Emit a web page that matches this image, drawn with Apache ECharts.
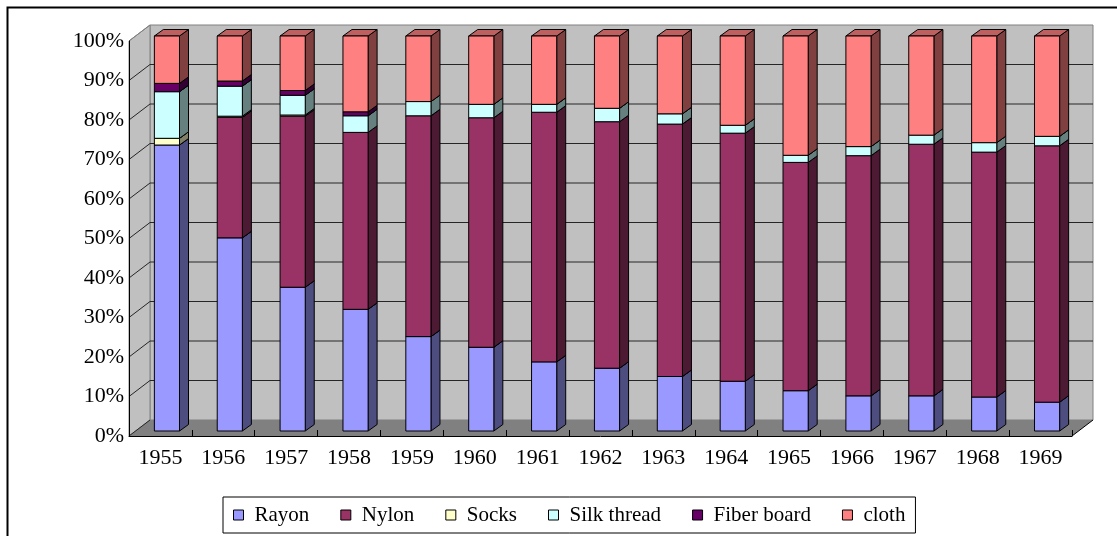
<!DOCTYPE html>
<html>
<head>
<meta charset="utf-8">
<script src="https://cdn.jsdelivr.net/npm/echarts@6/dist/echarts.min.js"></script>
<style>html,body{margin:0;padding:0;background:#fff}#c{width:1117px;height:536px}</style>
</head>
<body>
<div id="c"></div>
<script>
// ---- data (percent shares) ----
const years = ['1955','1956','1957','1958','1959','1960','1961','1962','1963','1964','1965','1966','1967','1968','1969'];
const seriesNames = ['Rayon','Nylon','Socks','Silk thread','Fiber board','cloth'];
const rayon = [72.4, 48.9, 36.4, 30.8, 23.9, 21.2, 17.5, 15.9, 13.8, 12.6, 10.2, 8.9, 8.9, 8.6, 7.3];
const nylon = [0, 30.5, 43.3, 44.8, 55.9, 58.1, 63.2, 62.4, 63.9, 62.8, 57.8, 60.8, 63.7, 62.0, 64.9];
const socks = [1.7, 0.3, 0.3, 0, 0, 0, 0, 0, 0, 0, 0, 0, 0, 0, 0];
const silkThread = [11.8, 7.6, 5.0, 4.2, 3.6, 3.4, 2.0, 3.4, 2.6, 2.0, 1.8, 2.3, 2.3, 2.4, 2.4];
const fiberBoard = [2.1, 1.3, 1.2, 1.0, 0, 0, 0, 0, 0, 0, 0, 0, 0, 0, 0];
const cloth = [12.0, 11.4, 13.8, 19.2, 16.6, 17.3, 17.3, 18.3, 19.7, 22.6, 30.2, 28.0, 25.1, 27.0, 25.4];
const yTicks = [0, 10, 20, 30, 40, 50, 60, 70, 80, 90, 100];

// ---- styles ----
const colors = ['#9999FF', '#993366', '#FFFFCC', '#CCFFFF', '#660066', '#FF8080'];
const FONT = "'Liberation Serif', 'Times New Roman', serif";
const WALL_D = [21, -16];   // depth of back wall (px)
const BAR_OFF = [6.5, -5];  // bar front face offset from front axis plane
const BAR_D = [9, -6.5];    // bar depth

function shade(hex, f) {
  const n = parseInt(hex.slice(1), 16);
  const r = Math.round(((n >> 16) & 255) * f), g = Math.round(((n >> 8) & 255) * f), b = Math.round((n & 255) * f);
  return 'rgb(' + r + ',' + g + ',' + b + ')';
}

const allVals = [rayon, nylon, socks, silkThread, fiberBoard, cloth];
const bases = years.map(() => 0);
const stackedData = allVals.map(vals => {
  const d = vals.map((v, i) => [i, bases[i], bases[i] + v]);
  vals.forEach((v, i) => { bases[i] += v; });
  return d;
});

function renderWalls(params, api) {
  const cs = params.coordSys;
  const x0 = cs.x, x1 = cs.x + cs.width;
  const yb = api.coord([0, 0])[1], yt = api.coord([0, 100])[1];
  const dx = WALL_D[0], dy = WALL_D[1];
  const ch = [];
  ch.push({type: 'rect', shape: {x: x0 + dx, y: yt + dy, width: cs.width, height: yb - yt},
    style: {fill: '#C0C0C0', stroke: '#808080', lineWidth: 1}});
  ch.push({type: 'polygon', shape: {points: [[x0, yt], [x0 + dx, yt + dy], [x0 + dx, yb + dy], [x0, yb]]},
    style: {fill: '#C0C0C0', stroke: '#808080', lineWidth: 1}});
  ch.push({type: 'polygon', shape: {points: [[x0, yb], [x0 + dx, yb + dy], [x1 + dx, yb + dy], [x1, yb]]},
    style: {fill: '#808080', stroke: null}});
  ch.push({type: 'line', shape: {x1: x1, y1: yb, x2: x1 + dx, y2: yb + dy}, style: {stroke: '#000', lineWidth: 1}});
  yTicks.forEach(v => {
    const y = api.coord([0, v])[1];
    if (v !== 0 && v !== 100) {
      ch.push({type: 'line', shape: {x1: x0 + dx, y1: y + dy, x2: x1 + dx, y2: y + dy}, style: {stroke: '#262626', lineWidth: 1}});
    }
    ch.push({type: 'line', shape: {x1: x0, y1: y, x2: x0 + dx, y2: y + dy}, style: {stroke: v === 100 ? '#808080' : '#262626', lineWidth: 1}});
  });
  return {type: 'group', children: ch};
}

function makeBarRender(color) {
  const side = shade(color, 0.5), top = shade(color, 0.75);
  return function (params, api) {
    const i = api.value(0), lo = api.value(1), hi = api.value(2);
    if (!(hi - lo > 0)) return null;
    const pb = api.coord([i, lo]), pt = api.coord([i, hi]);
    const bw = api.size([1, 0])[0] * 0.4;
    const xL = pb[0] + BAR_OFF[0] - bw / 2, xR = xL + bw;
    const yB = pb[1] + BAR_OFF[1], yT = pt[1] + BAR_OFF[1];
    const dx = BAR_D[0], dy = BAR_D[1];
    const st = {stroke: '#000', lineWidth: 1};
    return {type: 'group', children: [
      {type: 'polygon', shape: {points: [[xR, yT], [xR + dx, yT + dy], [xR + dx, yB + dy], [xR, yB]]}, style: Object.assign({fill: side}, st)},
      {type: 'polygon', shape: {points: [[xL, yT], [xL + dx, yT + dy], [xR + dx, yT + dy], [xR, yT]]}, style: Object.assign({fill: top}, st)},
      {type: 'rect', shape: {x: xL, y: yT, width: bw, height: yB - yT}, style: Object.assign({fill: color}, st)}
    ]};
  };
}

const series = [{
  type: 'custom', name: '_walls', silent: true, z: 1,
  renderItem: renderWalls, data: [[0, 0, 100]], encode: {x: 0, y: [1, 2]}, clip: false
}];
seriesNames.forEach((name, k) => {
  series.push({
    type: 'custom', name: name, z: 3,
    itemStyle: {color: colors[k]},
    renderItem: makeBarRender(colors[k]),
    data: stackedData[k], encode: {x: 0, y: [1, 2]}, clip: false
  });
});

const chart = echarts.init(document.getElementById('c'), null, {renderer: 'canvas'});
chart.setOption({
  animation: false,
  backgroundColor: '#fff',
  grid: {left: 129, right: 45, top: 41, bottom: 100},
  xAxis: {
    type: 'category', data: years, boundaryGap: true, z: 5,
    axisLine: {show: true, lineStyle: {color: '#000', width: 1}},
    axisTick: {show: true, inside: true, length: 6, interval: 0, lineStyle: {color: '#000'}},
    axisLabel: {interval: 0, margin: 11, color: '#000', fontSize: 22, fontFamily: FONT},
    splitLine: {show: false}
  },
  yAxis: {
    type: 'value', min: 0, max: 100, interval: 10, z: 5,
    axisLine: {show: true, lineStyle: {color: '#000', width: 1}},
    axisTick: {show: false},
    axisLabel: {margin: 5, color: '#000', fontSize: 22, fontFamily: FONT, formatter: '{value}%', padding: [3, 0, 0, 0]},
    splitLine: {show: false}
  },
  legend: {
    data: seriesNames, left: 223, top: 497,
    orient: 'horizontal', icon: 'rect', itemWidth: 10, itemHeight: 10, itemGap: 31,
    padding: [6, 10, 6, 10],
    backgroundColor: '#fff', borderColor: '#000', borderWidth: 1, borderRadius: 0,
    itemStyle: {borderColor: '#000', borderWidth: 1},
    textStyle: {color: '#000', fontSize: 21, fontFamily: FONT, lineHeight: 24, padding: [0, 0, 0, 6]},
    selectedMode: false
  },
  graphic: [{
    type: 'rect', silent: true, z: 100,
    shape: {x: 7.5, y: 7.5, width: 1300, height: 700},
    style: {fill: null, stroke: '#000', lineWidth: 2}
  }],
  series: series
});
</script>
</body>
</html>
